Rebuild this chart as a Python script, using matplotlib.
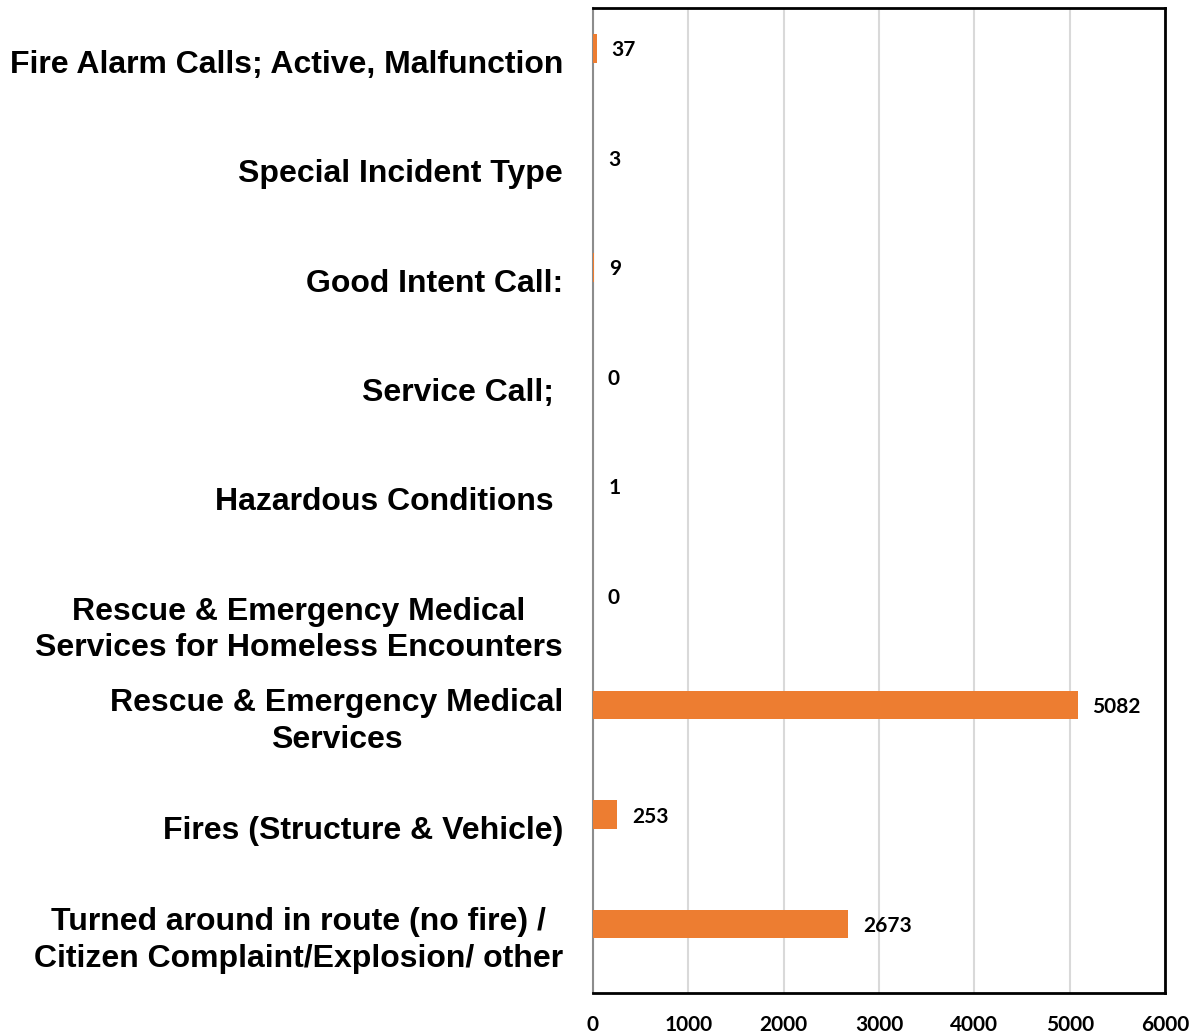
import matplotlib.pyplot as plt

# categories, top to bottom
categories = [
    'Fire Alarm Calls; Active, Malfunction',
    'Special Incident Type',
    'Good Intent Call:',
    'Service Call; ',
    'Hazardous Conditions ',
    'Rescue & Emergency Medical\nServices for Homeless Encounters',
    'Rescue & Emergency Medical\nServices',
    'Fires (Structure & Vehicle)',
    'Turned around in route (no fire) /\nCitizen Complaint/Explosion/ other',
]
values = [37, 3, 9, 0, 1, 0, 5082, 253, 2673]
xticks = [0, 1000, 2000, 3000, 4000, 5000, 6000]

ORANGE = '#ED7D31'
BAR_H = 0.26

fig = plt.figure(figsize=(11.97, 10.36), dpi=100)
ax = fig.add_axes([0.4954, 0.0415, 0.4779, 0.9508])

ypos = list(range(len(categories)))
# bar sits in the upper half of the category slot (second series empty)
ax.barh([y - BAR_H / 2 for y in ypos], values, height=BAR_H, color=ORANGE, zorder=3)

ax.set_xlim(0, 6000)
ax.set_ylim(len(categories) - 0.5, -0.5)
ax.set_xticks(xticks)
ax.set_xticklabels([str(t) for t in xticks], fontfamily='Lato', fontweight='bold', fontsize=15)
ax.tick_params(axis='x', length=0, pad=16)
ax.set_yticks([])
ax.grid(axis='x', color='#d9d9d9', lw=1.5, zorder=0)

for side in ['top', 'right', 'bottom']:
    ax.spines[side].set_color('black')
    ax.spines[side].set_linewidth(2)
ax.spines['left'].set_color('#8c8c8c')
ax.spines['left'].set_linewidth(1.5)

# data labels
for y, v in zip(ypos, values):
    ax.annotate(str(v), xy=(v, y - BAR_H / 2), xytext=(15, -2), textcoords='offset pixels',
                ha='left', va='center', fontfamily='Lato', fontweight='bold', fontsize=15)

# category labels
for y, lab in zip(ypos, categories):
    dy = -2
    if 'Homeless' in lab:
        dy = -20
    ax.annotate(lab, xy=(0, y), xycoords=('axes fraction', 'data'),
                xytext=(-30, dy), textcoords='offset pixels',
                ha='right', va='center', multialignment='center',
                fontfamily='Liberation Sans', fontweight='bold', fontsize=23,
                linespacing=1.28)

fig.savefig('out.png', dpi=100)
